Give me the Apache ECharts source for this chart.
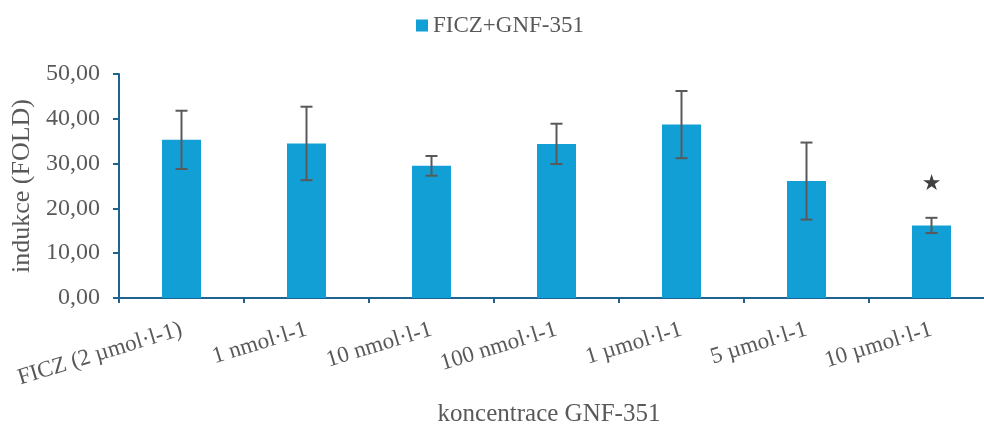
<!DOCTYPE html>
<html><head><meta charset="utf-8">
<script src="https://cdn.jsdelivr.net/npm/echarts@6/dist/echarts.min.js"></script>
<style>html,body{margin:0;padding:0;background:#fff}#c{width:984px;height:427px}</style>
</head><body><div id="c"></div>
<script>
const categories = ["FICZ (2 µmol·l-1)", "1 nmol·l-1", "10 nmol·l-1", "100 nmol·l-1", "1 µmol·l-1", "5 µmol·l-1", "10 µmol·l-1"];
const values = [35.3, 34.5, 29.5, 34.4, 38.7, 26.1, 16.2];
const errors = [6.5, 8.2, 2.2, 4.5, 7.5, 8.6, 1.7];
const yTicks = [0, 10, 20, 30, 40, 50];
const starPoints = [[6, 25.6]];
const seriesName = "FICZ+GNF-351";

const font = "'Liberation Serif', 'Times New Roman', serif";
const grey = "#595959";
const axisColor = "#1f6390";
const chart = echarts.init(document.getElementById('c'));
chart.setOption({
  animation: false,
  legend: {
    top: 9, left: 411, itemWidth: 12, itemHeight: 12, itemGap: 6,
    textStyle: {fontFamily: font, fontSize: 23, color: grey},
    data: [{name: seriesName, icon: 'rect'}]
  },
  grid: {left: 119, width: 875, top: 74, bottom: 129, outerBoundsMode: 'none', containLabel: false},
  xAxis: {
    type: 'category', data: categories,
    axisLine: {lineStyle: {color: axisColor, width: 2}},
    axisTick: {show: true, length: 5, lineStyle: {color: axisColor, width: 2}, alignWithLabel: false},
    axisLabel: {interval: 0, rotate: 17, fontFamily: font, fontSize: 23, color: grey, margin: 31},
    name: 'koncentrace GNF-351', nameLocation: 'middle', nameGap: 104,
    nameTextStyle: {fontFamily: font, fontSize: 25, color: grey, padding: [0, 15, 0, 0]}
  },
  yAxis: {
    type: 'value', min: yTicks[0], max: yTicks[yTicks.length - 1], interval: 10,
    splitLine: {show: false},
    axisLine: {show: true, lineStyle: {color: axisColor, width: 2}},
    axisTick: {show: true, length: 6, lineStyle: {color: axisColor, width: 2}},
    axisLabel: {fontFamily: font, fontSize: 24, color: grey, margin: 19,
      formatter: v => v.toFixed(2).replace('.', ',')},
    name: 'indukce (FOLD)', nameLocation: 'middle', nameGap: 80, nameRotate: 90,
    nameTextStyle: {fontFamily: font, fontSize: 26, color: grey}
  },
  series: [
    {name: seriesName, type: 'bar', data: values, barWidth: 39,
     itemStyle: {color: '#119fd6'}},
    {type: 'custom', name: 'err', silent: true, z: 5,
     data: values.map((v, i) => [i, v - errors[i], v + errors[i]]),
     renderItem: (params, api) => {
       const lo = api.coord([api.value(0), api.value(1)]);
       const hi = api.coord([api.value(0), api.value(2)]);
       const hw = 6;
       const st = {stroke: grey, lineWidth: 2};
       return {type: 'group', children: [
         {type: 'line', shape: {x1: lo[0], y1: lo[1], x2: hi[0], y2: hi[1]}, style: st},
         {type: 'line', shape: {x1: lo[0] - hw, y1: lo[1], x2: lo[0] + hw, y2: lo[1]}, style: st},
         {type: 'line', shape: {x1: hi[0] - hw, y1: hi[1], x2: hi[0] + hw, y2: hi[1]}, style: st}
       ]};
     }},
    {type: 'custom', name: 'star', silent: true, z: 6, data: starPoints,
     renderItem: (params, api) => {
       const p = api.coord([api.value(0), api.value(1)]);
       return {type: 'text', x: p[0], y: p[1] + 1,
         style: {text: '★', fill: '#404040', fontSize: 22, align: 'center', verticalAlign: 'middle', fontFamily: "'DejaVu Sans'"}};
     }}
  ]
});
</script></body></html>
